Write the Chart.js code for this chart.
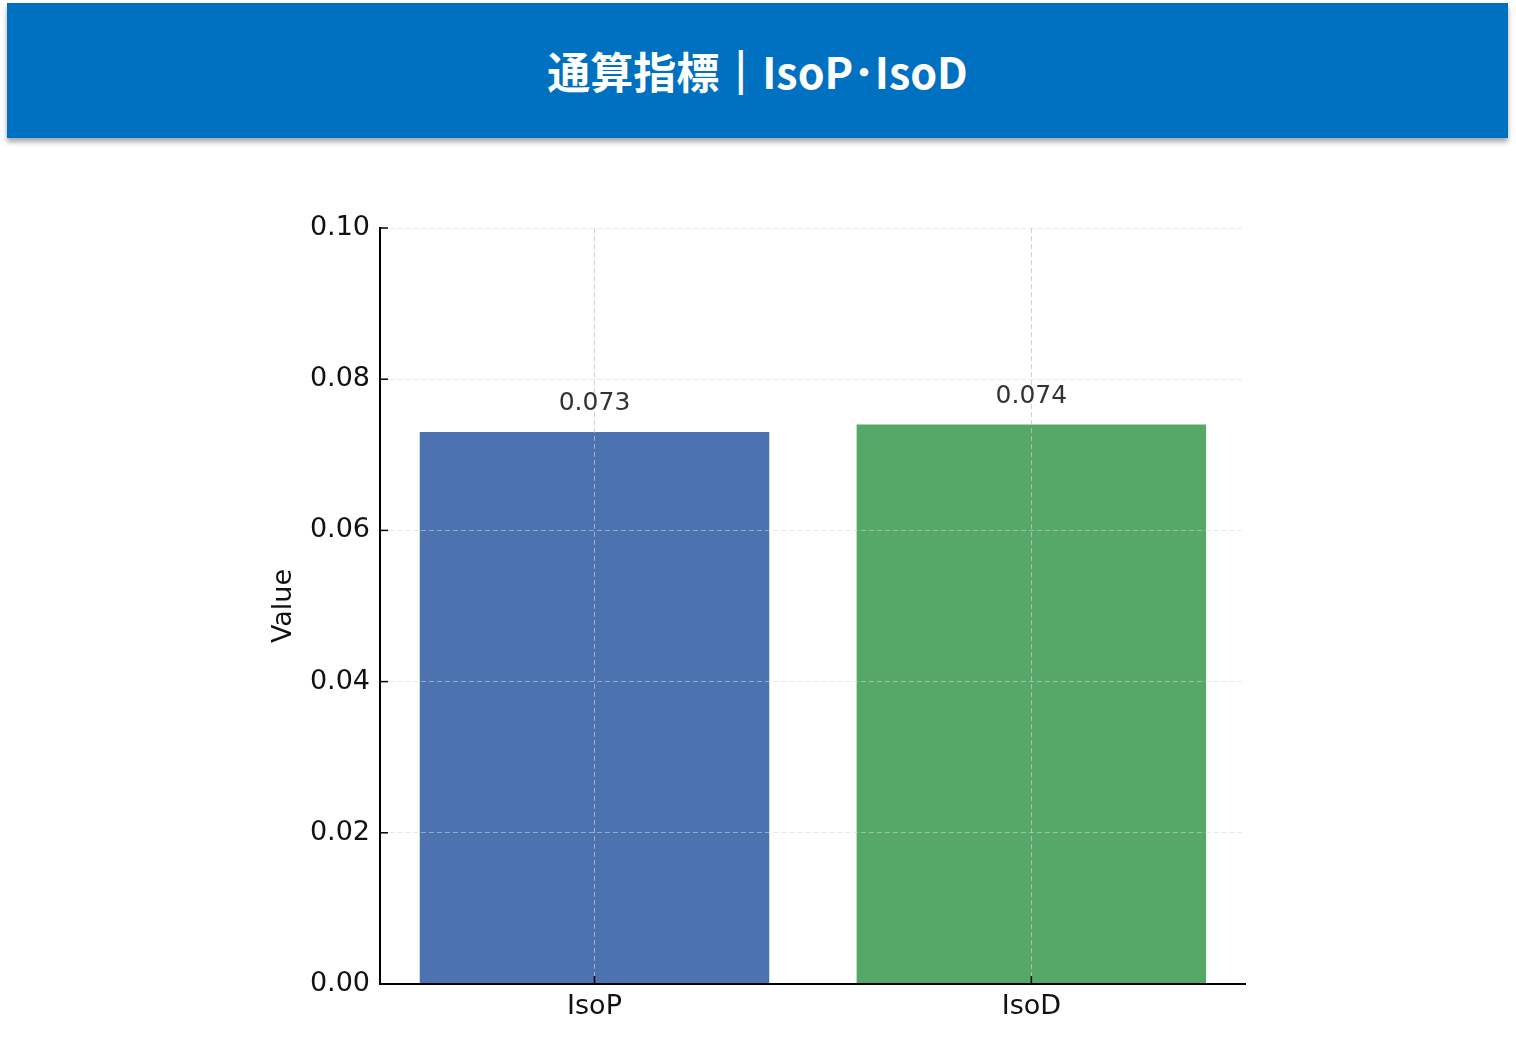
<!DOCTYPE html>
<html lang="ja">
<head>
    <meta charset="UTF-8">
    <title>通算指標｜IsoP・IsoD</title>
    <style>
        body {
            margin: 0;
            background: #ffffff;
            width: 1516px;
            height: 1047px;
            overflow: hidden;
            position: relative;
        }

        .header {
            position: absolute;
            left: 7px;
            top: 3px;
            width: 1501px;
            height: 135px;
            background: #0070c0;
            box-shadow: 0 4px 5px rgba(0, 0, 0, 0.35);
            color: #ffffff;
            font-family: 'Noto Sans CJK JP', 'Noto Sans', sans-serif;
            font-weight: 700;
            font-size: 43px;
            line-height: 135px;
            text-align: center;
        }

        .header .bar {
            -webkit-text-stroke: 2px #ffffff;
        }

        #chart {
            position: absolute;
            left: 0;
            top: 150px;
        }
    </style>
</head>
<body>
    <div class="header">通算指標<span class="bar">｜</span>IsoP･IsoD</div>
    <canvas id="chart" width="1516" height="897"></canvas>

    <script src="https://cdn.jsdelivr.net/npm/chart.js"></script>
    <script>
        const categories = ['IsoP', 'IsoD'];
        const values = [0.073, 0.074];
        const barColors = ['#4c72b0', '#55a868'];
        const yTicks = [0.00, 0.02, 0.04, 0.06, 0.08, 0.10];

        const tickFont = { family: "'DejaVu Sans', sans-serif", size: 27 };

        // inward tick marks + value labels above bars
        const overlay = {
            id: 'overlay',
            afterDraw(chart) {
                const { ctx, scales: { x, y } } = chart;
                ctx.save();
                ctx.strokeStyle = '#000';
                ctx.lineWidth = 1.5;
                y.ticks.forEach(t => {
                    const py = y.getPixelForValue(t.value);
                    ctx.beginPath();
                    ctx.moveTo(x.left, py);
                    ctx.lineTo(x.left + 8, py);
                    ctx.stroke();
                });
                x.ticks.forEach(t => {
                    const px = x.getPixelForValue(t.value);
                    ctx.beginPath();
                    ctx.moveTo(px, y.bottom);
                    ctx.lineTo(px, y.bottom - 8);
                    ctx.stroke();
                });

                ctx.fillStyle = '#333';
                ctx.font = "25px 'DejaVu Sans', sans-serif";
                ctx.textAlign = 'center';
                ctx.textBaseline = 'alphabetic';
                chart.getDatasetMeta(0).data.forEach((bar, i) => {
                    ctx.fillText(values[i].toFixed(3), bar.x, bar.y - 22);
                });
                ctx.restore();
            }
        };

        const ctx = document.getElementById('chart').getContext('2d');
        new Chart(ctx, {
            type: 'bar',
            data: {
                datasets: [{
                    data: values.map((v, i) => ({ x: i, y: v })),
                    backgroundColor: barColors,
                    borderWidth: 0,
                    barPercentage: 0.8,
                    categoryPercentage: 1.0
                }]
            },
            options: {
                responsive: false,
                animation: false,
                layout: {
                    padding: { left: 260, right: 271, top: 78, bottom: 0 }
                },
                plugins: {
                    legend: { display: false },
                    tooltip: { enabled: false }
                },
                scales: {
                    x: {
                        type: 'linear',
                        min: -0.491,
                        max: 1.489,
                        offset: false,
                        afterFit: s => { s.height = 63; },
                        afterBuildTicks: s => { s.ticks = categories.map((c, i) => ({ value: i })); },
                        grid: {
                            z: 1,
                            offset: false,
                            drawTicks: false,
                            color: 'rgba(195, 195, 195, 0.75)',
                            lineWidth: 1
                        },
                        border: { display: true, z: 2, color: '#000', width: 2, dash: [5, 3] },
                        ticks: {
                            color: '#111',
                            font: tickFont,
                            padding: 7,
                            callback: v => categories[v]
                        }
                    },
                    y: {
                        min: 0,
                        max: 0.1,
                        afterFit: s => { s.width = 120; },
                        afterBuildTicks: s => { s.ticks = yTicks.map(v => ({ value: v })); },
                        grid: {
                            z: 1,
                            drawTicks: false,
                            color: 'rgba(215, 215, 215, 0.55)',
                            lineWidth: 1
                        },
                        border: { display: true, z: 2, color: '#000', width: 2, dash: [5, 3] },
                        ticks: {
                            color: '#111',
                            font: tickFont,
                            padding: 10,
                            callback: v => v.toFixed(2)
                        },
                        title: {
                            display: true,
                            text: 'Value',
                            color: '#111',
                            font: tickFont,
                            padding: { top: 8, bottom: 0 }
                        }
                    }
                }
            },
            plugins: [overlay]
        });
    </script>
</body>
</html>
